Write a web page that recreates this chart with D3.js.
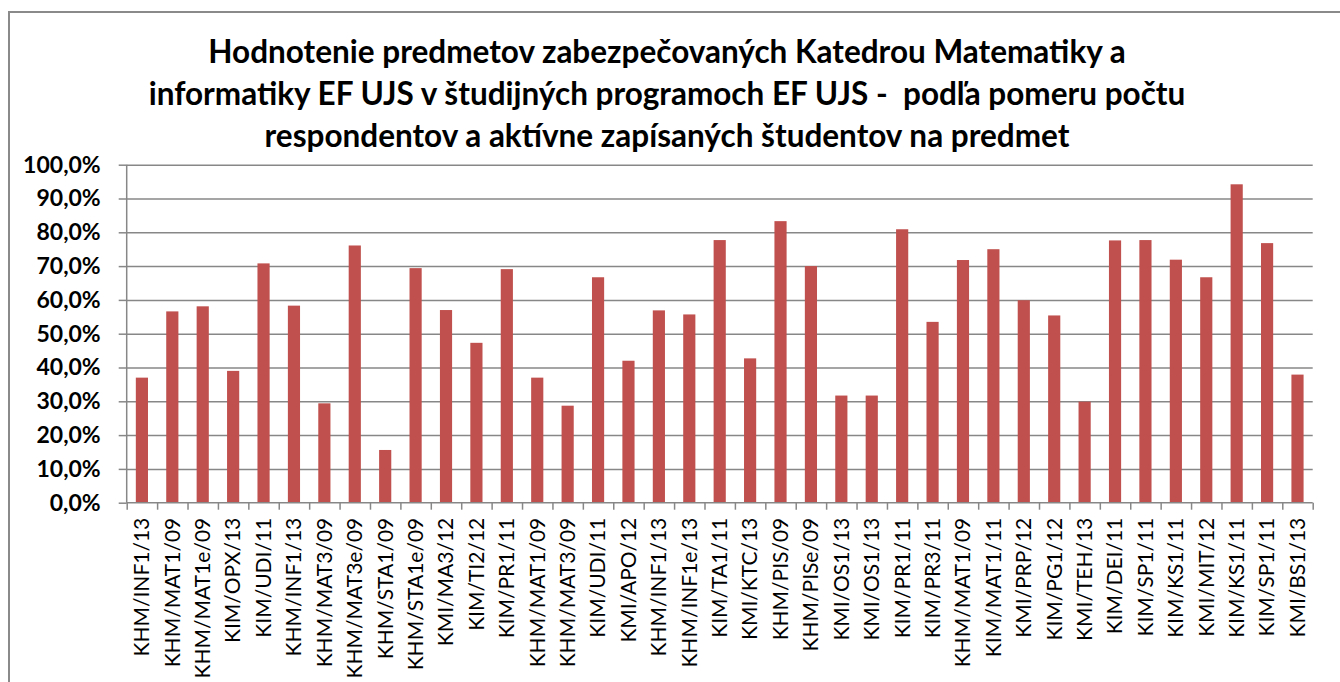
<!DOCTYPE html>
<html>
<head>
<meta charset="utf-8">
<script src="https://cdn.jsdelivr.net/npm/d3@7"></script>
<style>
  body { margin: 0; background: #fff; }
  svg { display: block; }
  text { font-family: Lato, "Open Sans", sans-serif; fill: #000; }
</style>
</head>
<body>
<div id="chart"></div>
<script>
// chart data
var titleLines = [
    "Hodnotenie predmetov zabezpečovaných Katedrou Matematiky a",
    "informatiky EF UJS v študijných programoch EF UJS -  podľa pomeru počtu",
    "respondentov a aktívne zapísaných študentov na predmet"
];

var courses = [
    "KHM/INF1/13", "KHM/MAT1/09", "KHM/MAT1e/09", "KIM/OPX/13", "KIM/UDI/11",
    "KHM/INF1/13", "KHM/MAT3/09", "KHM/MAT3e/09", "KHM/STA1/09", "KHM/STA1e/09",
    "KMI/MA3/12", "KIM/TI2/12", "KIM/PR1/11", "KHM/MAT1/09", "KHM/MAT3/09",
    "KIM/UDI/11", "KMI/APO/12", "KHM/INF1/13", "KHM/INF1e/13", "KIM/TA1/11",
    "KMI/KTC/13", "KHM/PIS/09", "KHM/PISe/09", "KMI/OS1/13", "KMI/OS1/13",
    "KIM/PR1/11", "KIM/PR3/11", "KHM/MAT1/09", "KIM/MAT1/11", "KMI/PRP/12",
    "KIM/PG1/12", "KMI/TEH/13", "KIM/DEI/11", "KIM/SP1/11", "KIM/KS1/11",
    "KMI/MIT/12", "KIM/KS1/11", "KIM/SP1/11", "KMI/BS1/13"
];

// share of respondents (%)
var ratio = [
    37.0, 56.6, 58.1, 39.0, 70.8, 58.3, 29.4, 76.1, 15.6, 69.4,
    57.0, 47.3, 69.1, 37.0, 28.7, 66.7, 42.0, 56.9, 55.7, 77.7,
    42.7, 83.3, 70.0, 31.7, 31.7, 80.9, 53.5, 71.8, 75.0, 59.9,
    55.4, 29.9, 77.6, 77.7, 71.9, 66.7, 94.2, 76.8, 37.9
];

var yTicks = [0, 10, 20, 30, 40, 50, 60, 70, 80, 90, 100];

// svg area and plot area
var svgWidth = 1340;
var svgHeight = 682;
var margin = { top: 164.7, right: 27.3, bottom: 179.3, left: 126.7 };
var chartWidth = svgWidth - margin.left - margin.right;
var chartHeight = svgHeight - margin.top - margin.bottom;

var svg = d3.select("#chart")
    .append("svg")
    .attr("width", svgWidth)
    .attr("height", svgHeight);

// outer frame of the chart
svg.append("rect")
    .attr("x", 9)
    .attr("y", 12)
    .attr("width", 1400)
    .attr("height", 800)
    .attr("fill", "none")
    .attr("stroke", "#8a8a8a")
    .attr("stroke-width", 2);

// title
svg.append("g").selectAll("text")
    .data(titleLines)
    .enter()
    .append("text")
    .attr("x", 667)
    .attr("y", (d, i) => 63 + i * 42)
    .attr("text-anchor", "middle")
    .style("white-space", "pre")
    .attr("font-size", "31.5px")
    .attr("font-weight", "bold")
    .text(d => d);

var chartGroup = svg.append("g")
    .attr("transform", `translate(${margin.left}, ${margin.top})`);

var locale = d3.formatLocale({ decimal: ",", thousands: " ", grouping: [3], currency: ["", ""] });
var fmt = locale.format(".1f");

var yScale = d3.scaleLinear()
    .domain([0, 100])
    .range([chartHeight, 0]);

var xScale = d3.scaleBand()
    .domain(d3.range(courses.length))
    .range([0, chartWidth])
    .paddingInner(0.6)
    .paddingOuter(0.3);

// category boundaries for the tick marks
var xEdges = d3.scaleLinear()
    .domain([0, courses.length])
    .range([0, chartWidth]);

// gridlines
chartGroup.append("g")
    .attr("class", "grid")
    .call(d3.axisLeft(yScale).tickValues(yTicks.slice(1)).tickSize(-chartWidth).tickFormat(""))
    .call(g => g.select(".domain").remove())
    .call(g => g.selectAll("line").attr("stroke", "#878787").attr("stroke-width", 1.5));

// bars
chartGroup.selectAll("rect.bar")
    .data(ratio)
    .enter()
    .append("rect")
    .attr("class", "bar")
    .attr("x", (d, i) => xScale(i))
    .attr("y", d => yScale(d))
    .attr("width", xScale.bandwidth())
    .attr("height", d => chartHeight - yScale(d))
    .attr("fill", "#c0504d");

// y axis
chartGroup.append("g")
    .call(d3.axisLeft(yScale).tickValues(yTicks).tickSize(8).tickPadding(18)
        .tickFormat(d => fmt(d) + "%"))
    .call(g => g.select(".domain").attr("stroke", "#878787").attr("stroke-width", 1.5).attr("d", `M0,${chartHeight}V0`))
    .call(g => g.selectAll("line").attr("stroke", "#878787").attr("stroke-width", 1.5))
    .call(g => g.selectAll("text")
        .attr("font-size", "23px")
        .attr("font-weight", "bold")
        .attr("font-family", "Lato, sans-serif")
        .attr("fill", "#000"));

// x axis tick marks at category edges
chartGroup.append("g")
    .attr("transform", `translate(0, ${chartHeight})`)
    .call(d3.axisBottom(xEdges).tickValues(d3.range(courses.length + 1)).tickSize(7).tickFormat(""))
    .call(g => g.select(".domain").attr("stroke", "#878787").attr("stroke-width", 1.5).attr("d", `M0,0H${chartWidth}`))
    .call(g => g.selectAll("line").attr("stroke", "#878787").attr("stroke-width", 1.5));

// x labels (rotated)
chartGroup.append("g")
    .attr("transform", `translate(0, ${chartHeight})`)
    .call(d3.axisBottom(xScale).tickSize(0).tickPadding(0).tickFormat(i => courses[i]))
    .call(g => g.select(".domain").remove())
    .call(g => g.selectAll("text")
        .attr("transform", "rotate(-90)")
        .attr("x", -15)
        .attr("y", 0)
        .attr("dy", "0.35em")
        .attr("text-anchor", "end")
        .attr("font-size", "21px")
        .attr("font-family", "Lato, sans-serif")
        .attr("fill", "#000"));
</script>
</body>
</html>
